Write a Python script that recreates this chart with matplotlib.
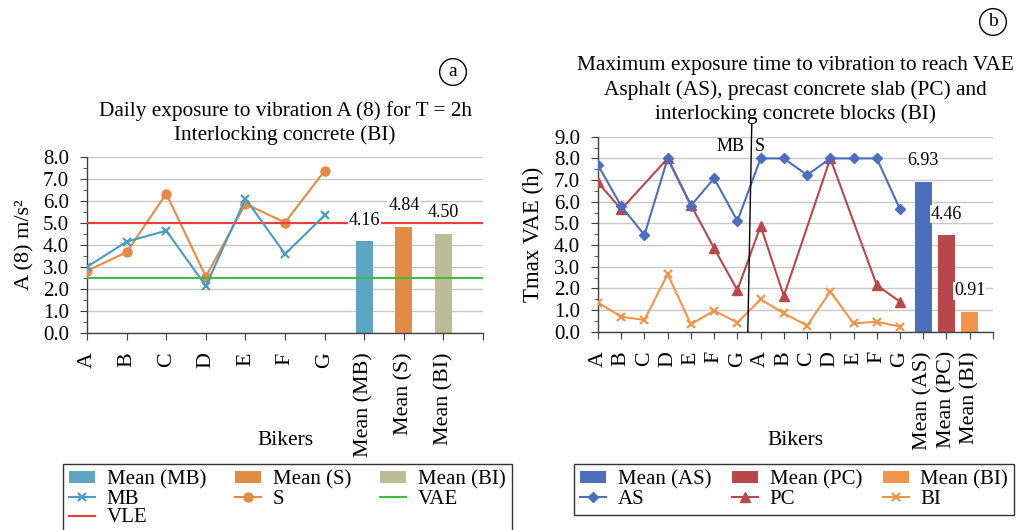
import numpy as np
import matplotlib
matplotlib.use("Agg")
import matplotlib.pyplot as plt
from matplotlib.ticker import MultipleLocator

plt.rcParams["font.family"] = ["Liberation Serif", "DejaVu Serif"]

# --- panel (a) data ---
bikers = ["A", "B", "C", "D", "E", "F", "G"]
cats_a = bikers + ["Mean (MB)", "Mean (S)", "Mean (BI)"]
mb = [3.01, 4.15, 4.65, 2.14, 6.11, 3.59, 5.35]
s = [2.83, 3.67, 6.33, 2.56, 5.87, 5.02, 7.38]
means_a = [4.16, 4.84, 4.50]
vle = 5.0
vae = 2.5

# --- panel (b) data ---
cats_b = bikers + bikers + ["Mean (AS)", "Mean (PC)", "Mean (BI)"]
as_vals = [7.69, 5.80, 4.46, 8.00, 5.82, 7.08, 5.11,
           8.00, 8.00, 7.23, 8.00, 8.00, 8.00, 5.65]
pc_vals = [6.89, 5.65, None, 8.00, 5.85, 3.85, 1.92,
           4.88, 1.65, None, 8.00, None, 2.15, 1.38]
bi_vals = [1.34, 0.69, 0.54, 2.66, 0.34, 0.97, 0.42,
           1.49, 0.85, 0.28, 1.85, 0.38, 0.46, 0.23]
means_b = [6.93, 4.46, 0.91]

C_MB, C_MB_BAR = "#4A9BC0", "#5DA5C3"
C_S = "#E38B45"
C_BI_A = "#BEBB97"
C_AS = "#4C6EBD"
C_PC = "#B8484B"
C_BI = "#F0954A"
GRID = "#C8C8C8"
SPINE = "#404040"

fig = plt.figure(figsize=(10.18, 5.30), dpi=100)
ax1 = fig.add_axes([0.0855, 0.3717, 0.389, 0.3321])
ax2 = fig.add_axes([0.5874, 0.3742, 0.388, 0.3678])


def style_axes(ax, ymax, n):
    ax.set_ylim(0, ymax)
    ax.set_xlim(0, n)
    ax.yaxis.set_major_locator(MultipleLocator(1))
    ax.yaxis.set_minor_locator(MultipleLocator(0.5))
    ax.yaxis.set_major_formatter(plt.FuncFormatter(lambda v, p: f"{v:.1f}"))
    ax.grid(axis="y", color=GRID, lw=1.0, zorder=0)
    ax.set_axisbelow(True)
    for sp in ["top", "right"]:
        ax.spines[sp].set_visible(False)
    for sp in ["left", "bottom"]:
        ax.spines[sp].set_color(SPINE)
        ax.spines[sp].set_linewidth(1.0)
    ax.tick_params(axis="y", which="major", length=5, color=SPINE, labelsize=15, pad=8)
    ax.tick_params(axis="y", which="minor", length=3, color=SPINE)
    ax.tick_params(axis="x", length=5, color=SPINE, labelsize=15.8, pad=9)


def bar_labels(ax, xs, vals):
    for x, v in zip(xs, vals):
        ax.annotate(f"{v:.2f}", (x, v), xytext=(0, 9), textcoords="offset points",
                    ha="center", va="bottom", fontsize=13,
                    bbox=dict(boxstyle="square,pad=0.05", fc="white", ec="none"))


def make_legend(ax, handles, labels, left_px, colsp):
    leg = ax.legend(handles, labels, ncol=3, loc="upper left",
                    bbox_to_anchor=(left_px / 1018, 1 - 464 / 530),
                    bbox_transform=fig.transFigure, fontsize=15, frameon=True,
                    fancybox=False, edgecolor="black", handlelength=1.25,
                    handleheight=0.5, handletextpad=0.55, columnspacing=colsp,
                    labelspacing=0.0, borderpad=0.3, borderaxespad=0)
    leg.get_frame().set_linewidth(1.0)
    return leg


# ---------------- panel (a) ----------------
xa = np.arange(len(bikers))
xbar_a = np.arange(len(bikers), len(cats_a))
b1 = ax1.bar(xbar_a[0], means_a[0], width=0.43, color=C_MB_BAR, label="Mean (MB)", zorder=2)
b2 = ax1.bar(xbar_a[1], means_a[1], width=0.43, color=C_S, label="Mean (S)", zorder=2)
b3 = ax1.bar(xbar_a[2], means_a[2], width=0.43, color=C_BI_A, label="Mean (BI)", zorder=2)
l_mb, = ax1.plot(xa, mb, color=C_MB, marker="x", ms=6, mew=1.6, lw=1.5, label="MB", zorder=4)
l_s, = ax1.plot(xa, s, color=C_S, marker="o", ms=6.5, lw=1.5, label="S", zorder=3)
l_vae = ax1.axhline(vae, color="#3DBE3D", lw=1.5, label="VAE", zorder=3)
l_vle = ax1.axhline(vle, color="#EE3B3B", lw=1.5, label="VLE", zorder=3)
style_axes(ax1, 8, len(cats_a))
ax1.set_xticks(np.arange(len(cats_a) + 1))
ax1.set_xticklabels(cats_a + [""], rotation=90)
bar_labels(ax1, xbar_a, means_a)
ax1.set_ylabel("A (8) m/s²", fontsize=16, labelpad=6)
ax1.set_xlabel("Bikers", fontsize=15.5)
ax1.xaxis.set_label_coords(0.5, -0.557)
ax1.set_title("Daily exposure to vibration A (8) for T = 2h\nInterlocking concrete (BI)",
              fontsize=15.3, pad=12, linespacing=1.3)

make_legend(ax1, [b1, l_mb, l_vle, b2, l_s, b3, l_vae],
            ["Mean (MB)", "MB", "VLE", "Mean (S)", "S", "Mean (BI)", "VAE"], 63, 1.4)

# ---------------- panel (b) ----------------
xb = np.arange(len(as_vals))
xbar_b = np.arange(len(as_vals), len(cats_b))
c1 = ax2.bar(xbar_b[0], means_b[0], width=0.72, color=C_AS, label="Mean (AS)", zorder=2)
c2 = ax2.bar(xbar_b[1], means_b[1], width=0.72, color=C_PC, label="Mean (PC)", zorder=2)
c3 = ax2.bar(xbar_b[2], means_b[2], width=0.72, color=C_BI, label="Mean (BI)", zorder=2)
l_as, = ax2.plot(xb, as_vals, color=C_AS, marker="D", ms=5, lw=1.5, label="AS", zorder=4)
pc = np.array([np.nan if v is None else v for v in pc_vals])
ok = ~np.isnan(pc)
l_pc, = ax2.plot(xb[ok], pc[ok], color=C_PC, marker="^", ms=7, lw=1.5, label="PC", zorder=3)
l_bi, = ax2.plot(xb, bi_vals, color=C_BI, marker="x", ms=6, mew=1.6, lw=1.5, label="BI", zorder=3)
style_axes(ax2, 9, len(cats_b))
ax2.set_xticks(np.arange(len(cats_b) + 1))
ax2.set_xticklabels(cats_b + [""], rotation=90)
bar_labels(ax2, xbar_b, means_b)
# MB / S separator
ax2.plot([6.45, 6.62], [0, 9.6], color="black", lw=1.0, clip_on=False, zorder=5)
ax2.text(6.3, 8.55, "MB", ha="right", va="center", fontsize=13)
ax2.text(6.75, 8.55, "S", ha="left", va="center", fontsize=13)
ax2.set_ylabel("Tmax VAE (h)", fontsize=16.5, labelpad=7)
ax2.set_xlabel("Bikers", fontsize=15.5)
ax2.xaxis.set_label_coords(0.5, -0.509)
ax2.set_title("Maximum exposure time to vibration to reach VAE\n"
              "Asphalt (AS), precast concrete slab (PC) and\n"
              "interlocking concrete blocks (BI)",
              fontsize=15.3, pad=13, linespacing=1.3)

make_legend(ax2, [c1, l_as, c2, l_pc, c3, l_bi],
            ["Mean (AS)", "AS", "Mean (PC)", "PC", "Mean (BI)", "BI"], 574, 1.0)

# circled panel letters
circ = dict(boxstyle="circle,pad=0.25", fc="white", ec="black", lw=1.0)
fig.text(453 / 1018, 1 - 72 / 530, "a", ha="center", va="center", fontsize=14, bbox=circ)
fig.text(993 / 1018, 1 - 22 / 530, "b", ha="center", va="center", fontsize=14, bbox=circ)

fig.savefig("out.png", dpi=100)
